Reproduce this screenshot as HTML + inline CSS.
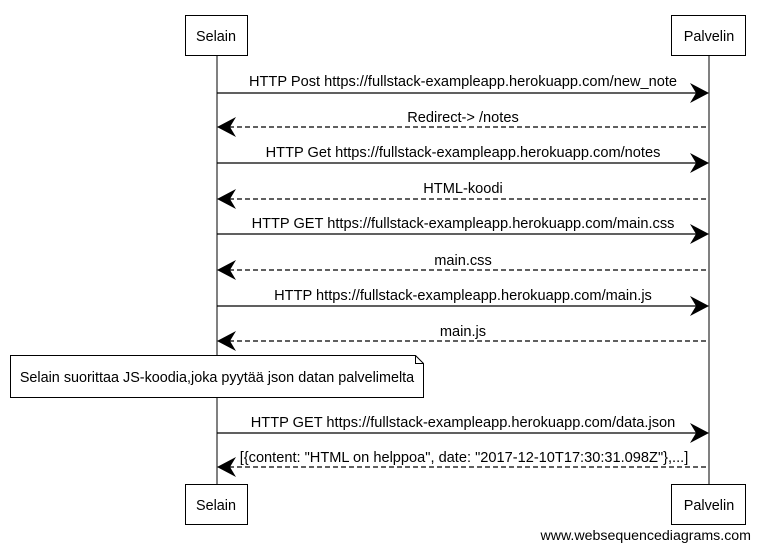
<!DOCTYPE html>
<html><head><meta charset="utf-8"><style>
html,body{margin:0;padding:0;background:#fff;}
svg{display:block;font-family:"Liberation Sans",sans-serif;}
</style></head><body>
<svg width="759" height="549" viewBox="0 0 759 549" xmlns="http://www.w3.org/2000/svg">
<g stroke="#000" fill="none" stroke-width="1">
<line x1="217" y1="56" x2="217" y2="485"/>
<line x1="709" y1="56" x2="709" y2="485"/>
<rect x="185.5" y="15.5" width="62" height="40" fill="#fff"/>
<rect x="671.5" y="15.5" width="74" height="40" fill="#fff"/>
<rect x="185.5" y="484.5" width="62" height="40" fill="#fff"/>
<rect x="671.5" y="484.5" width="74" height="40" fill="#fff"/>
<path d="M10.5 355.5 L415.5 355.5 L423.5 363.5 L423.5 397.5 L10.5 397.5 Z" fill="#fff"/>
<path d="M415.5 355.5 L415.5 363.5 L423.5 363.5"/>
</g>
<g font-size="14.4" text-anchor="middle" fill="#000">
<text x="216" y="41">Selain</text>
<text x="709" y="41">Palvelin</text>
<text x="216" y="510">Selain</text>
<text x="709" y="510">Palvelin</text>
<text x="217" y="382">Selain suorittaa JS-koodia,joka pyytää json datan palvelimelta</text>
</g>
<g stroke="#000" stroke-width="1.3" fill="none">
<line x1="217" y1="93" x2="705" y2="93"/>
<line x1="221" y1="127" x2="709" y2="127" stroke-dasharray="5,3"/>
<line x1="217" y1="163" x2="705" y2="163"/>
<line x1="221" y1="199" x2="709" y2="199" stroke-dasharray="5,3"/>
<line x1="217" y1="234" x2="705" y2="234"/>
<line x1="221" y1="270" x2="709" y2="270" stroke-dasharray="5,3"/>
<line x1="217" y1="306" x2="705" y2="306"/>
<line x1="221" y1="341" x2="709" y2="341" stroke-dasharray="5,3"/>
<line x1="217" y1="433" x2="705" y2="433"/>
<line x1="221" y1="467" x2="709" y2="467" stroke-dasharray="5,3"/>
</g>
<g fill="#000">
<path d="M709 93 L690 83 L696 93 L690 103 Z"/>
<path d="M709 163 L690 153 L696 163 L690 173 Z"/>
<path d="M709 234 L690 224 L696 234 L690 244 Z"/>
<path d="M709 306 L690 296 L696 306 L690 316 Z"/>
<path d="M709 433 L690 423 L696 433 L690 443 Z"/>
<path d="M217 127 L236 117 L230 127 L236 137 Z"/>
<path d="M217 199 L236 189 L230 199 L236 209 Z"/>
<path d="M217 270 L236 260 L230 270 L236 280 Z"/>
<path d="M217 341 L236 331 L230 341 L236 351 Z"/>
<path d="M217 467 L236 457 L230 467 L236 477 Z"/>
</g>
<g font-size="14.6" text-anchor="middle" fill="#000">
<text x="463" y="86">HTTP Post https://fullstack-exampleapp.herokuapp.com/new_note</text>
<text x="463" y="122">Redirect-&gt; /notes</text>
<text x="463" y="157">HTTP Get https://fullstack-exampleapp.herokuapp.com/notes</text>
<text x="463" y="193">HTML-koodi</text>
<text x="463" y="228">HTTP GET https://fullstack-exampleapp.herokuapp.com/main.css</text>
<text x="463" y="265">main.css</text>
<text x="463" y="300">HTTP https://fullstack-exampleapp.herokuapp.com/main.js</text>
<text x="463" y="336">main.js</text>
<text x="463" y="427">HTTP GET https://fullstack-exampleapp.herokuapp.com/data.json</text>
<text x="464" y="462">[{content: "HTML on helppoa", date: "2017-12-10T17:30:31.098Z"},...]</text>
</g>
<text x="751" y="540" font-size="14.2" text-anchor="end" fill="#000">www.websequencediagrams.com</text>
</svg>
</body></html>
